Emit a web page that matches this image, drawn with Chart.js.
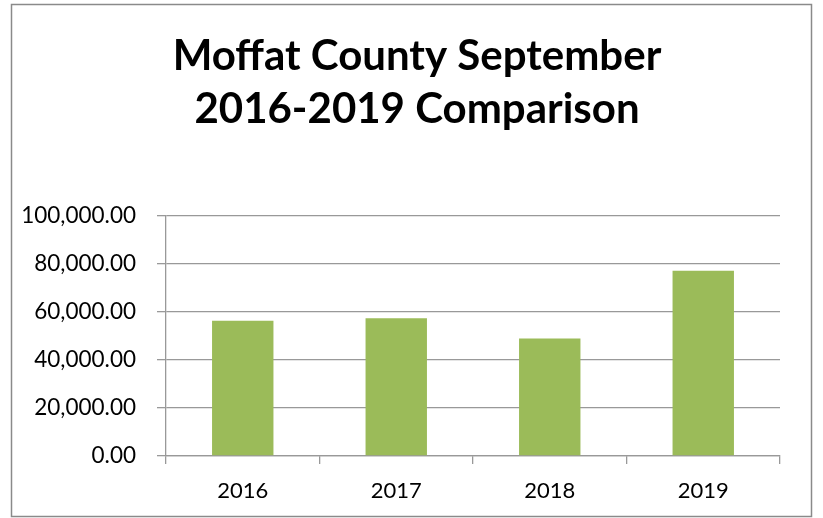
<!DOCTYPE html>
<html>
<head>
<meta charset="utf-8">
<script src="https://cdn.jsdelivr.net/npm/chart.js@4"></script>
<style>
  html, body { margin: 0; padding: 0; background: #fff; }
  #wrap { width: 823px; height: 518px; position: relative; }
</style>
</head>
<body>
<div id="wrap"><canvas id="c" width="823" height="518"></canvas></div>
<script>
const titleLines = ["Moffat County September", "2016-2019 Comparison"];
const categories = ["2016", "2017", "2018", "2019"];
const values = [56400, 57400, 49000, 77200];
const yTicks = [0, 20000, 40000, 60000, 80000, 100000];

const frame = {
  id: 'frame',
  beforeDraw(chart) {
    const ctx = chart.ctx;
    ctx.save();
    ctx.fillStyle = '#fff';
    ctx.fillRect(0, 0, chart.width, chart.height);
    ctx.strokeStyle = '#8a8a8a';
    ctx.lineWidth = 1.5;
    ctx.strokeRect(11.5, 4.5, 800, 512);
    ctx.restore();
  }
};

new Chart(document.getElementById('c'), {
  type: 'bar',
  data: {
    labels: categories,
    datasets: [{
      data: values,
      yAxisID: 'y',
      backgroundColor: '#9BBB59',
      borderWidth: 0,
      barPercentage: 0.4,
      categoryPercentage: 1.0
    }]
  },
  options: {
    responsive: false,
    animation: false,
    devicePixelRatio: 1,
    layout: { padding: { left: 11, right: 0, top: 0, bottom: 0 } },
    plugins: {
      legend: { display: false },
      tooltip: { enabled: false },
      title: {
        display: true,
        text: titleLines,
        color: '#000',
        font: { family: 'Lato', weight: 'bold', size: 42, lineHeight: '53px' },
        padding: { top: 30, bottom: 80 }
      }
    },
    scales: {
      x: {
        offset: true,
        grid: { offset: true, drawOnChartArea: false, color: '#999', tickLength: 8, lineWidth: 1.3 },
        border: { color: '#999', width: 1.3 },
        ticks: { color: '#000', font: { family: 'Lato', size: 22 }, padding: 14 },
        afterFit(s) { s.height = 62; }
      },
      y: {
        position: 'left',
        min: 0,
        max: 100000,
        afterBuildTicks(s) { s.ticks = yTicks.map(v => ({ value: v })); },
        grid: { color: '#999', tickLength: 9, lineWidth: 1.3 },
        border: { color: '#999', width: 1.3 },
        ticks: {
          color: '#000',
          font: { family: 'Lato', size: 22.5 },
          padding: 21,
          callback: v => Number(v).toLocaleString('en-US', { minimumFractionDigits: 2, maximumFractionDigits: 2 })
        },
        afterFit(s) { s.width = 155; }
      },
      yRight: {
        position: 'right',
        display: true,
        grid: { display: false, drawTicks: false },
        border: { display: false },
        ticks: { display: false },
        afterFit(s) { s.width = 43; }
      }
    }
  },
  plugins: [frame]
});
</script>
</body>
</html>
